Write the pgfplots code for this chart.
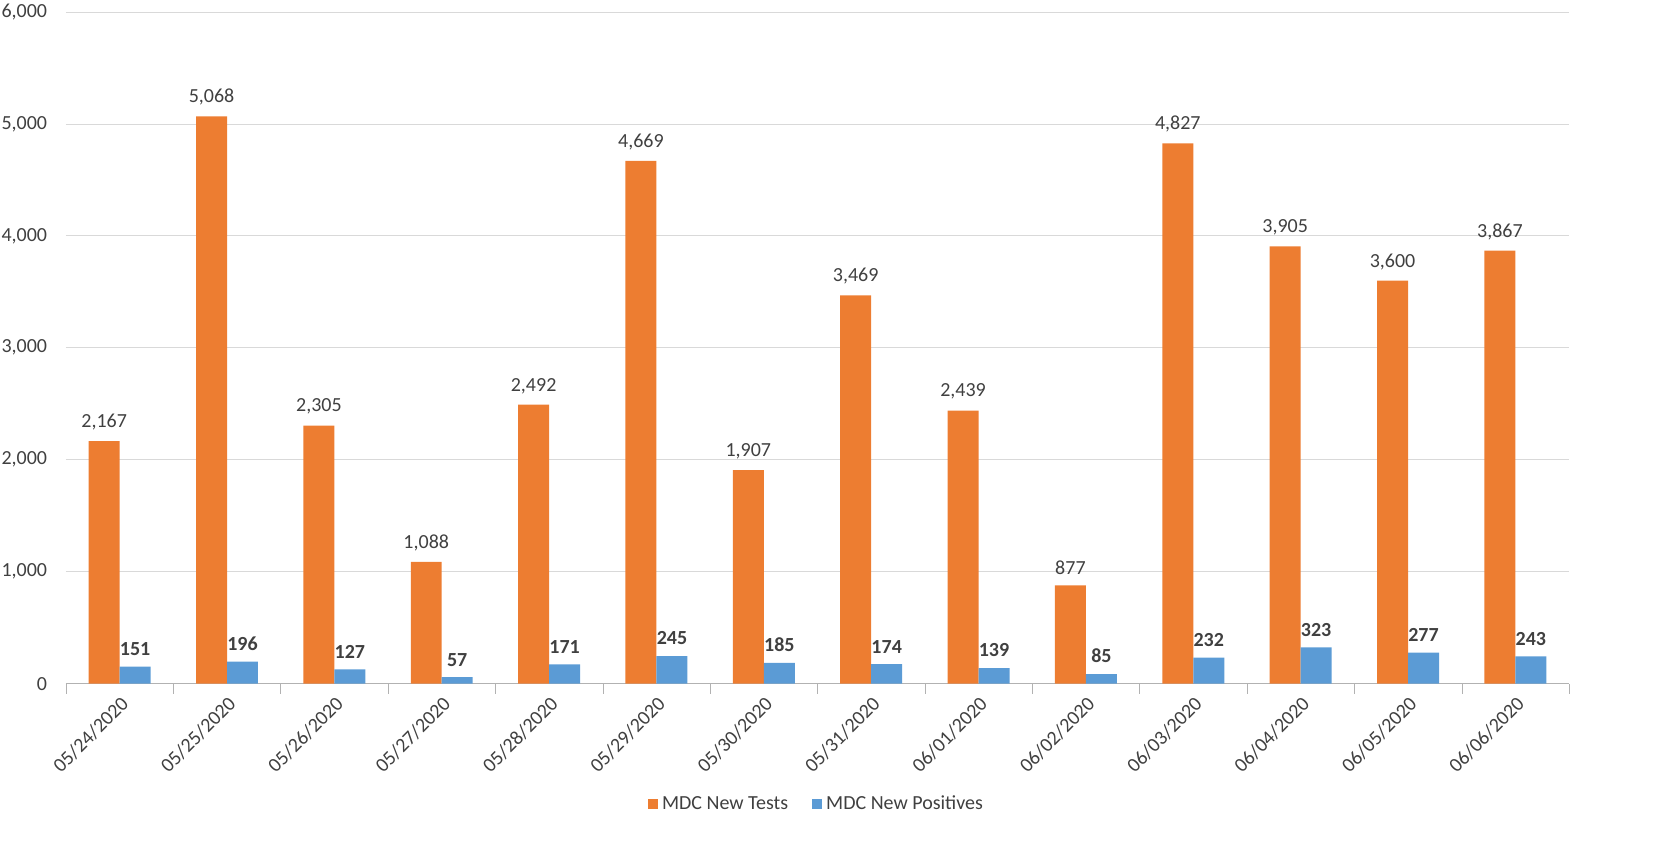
\documentclass[border=0pt]{standalone}
\usepackage{pgfplots}
\pgfplotsset{compat=1.18}
\usepackage{fontspec}
\setmainfont{Carlito}
\definecolor{or}{HTML}{ED7D31}
\definecolor{bl}{HTML}{5B9BD5}
\definecolor{tx}{HTML}{404040}
\begin{document}
\begin{tikzpicture}
\useasboundingbox (-33pt,-91pt) rectangle (799pt,342pt);
\begin{axis}[at={(0,0)}, anchor=south west,
  scale only axis, width=752pt, height=336pt,
  ybar=0pt, bar width=15.5pt,
  xmin=-0.5, xmax=13.5, ymin=0, ymax=6000,
  ytick={0,1000,...,6000},
  xtick={0,...,13},
  xticklabels={05/24/2020,05/25/2020,05/26/2020,05/27/2020,05/28/2020,05/29/2020,05/30/2020,05/31/2020,06/01/2020,06/02/2020,06/03/2020,06/04/2020,06/05/2020,06/06/2020},
  x tick label style={rotate=45, anchor=north east, inner sep=1pt},
  major x tick style={draw=none},
  minor xtick={-0.5,0.5,...,13.5},
  minor x tick style={draw=gray!60},
  tick align=outside, minor tick length=5pt,
  major y tick style={draw=none},
  ymajorgrids, grid style={gray!30},
  axis x line*=bottom,
  axis y line*=left,
  x axis line style={draw=gray!60, -},
  y axis line style={draw=none},
  yticklabel style={/pgf/number format/1000 sep={,}, inner sep=1pt, xshift=-4pt},
  /pgf/number format/assume math mode=true,
  /pgf/number format/1000 sep={,},
  ticklabel style={font=\fontsize{10}{12}\selectfont, text=tx},
  nodes near coords,
  nodes near coords style={font=\fontsize{10}{12}\selectfont, text=tx, /pgf/number format/1000 sep={,}, yshift=2pt},
  legend style={at={(0.5,-0.18)}, anchor=center, draw=none, legend columns=2, font=\fontsize{10}{12}\selectfont, text=tx, /tikz/every even column/.append style={column sep=10pt}},
  legend image code/.code={\fill[#1] (0,-2.5pt) rectangle (5pt,2.5pt);},
]
\addplot[fill=or, draw=none] coordinates {(0,2167)(1,5068)(2,2305)(3,1088)(4,2492)(5,4669)(6,1907)(7,3469)(8,2439)(9,877)(10,4827)(11,3905)(12,3600)(13,3867)};
\addplot[fill=bl, draw=none, nodes near coords style={font=\fontsize{10}{12}\selectfont\bfseries}] coordinates {(0,151)(1,196)(2,127)(3,57)(4,171)(5,245)(6,185)(7,174)(8,139)(9,85)(10,232)(11,323)(12,277)(13,243)};
\legend{MDC New Tests, MDC New Positives}
\end{axis}
\end{tikzpicture}
\end{document}
